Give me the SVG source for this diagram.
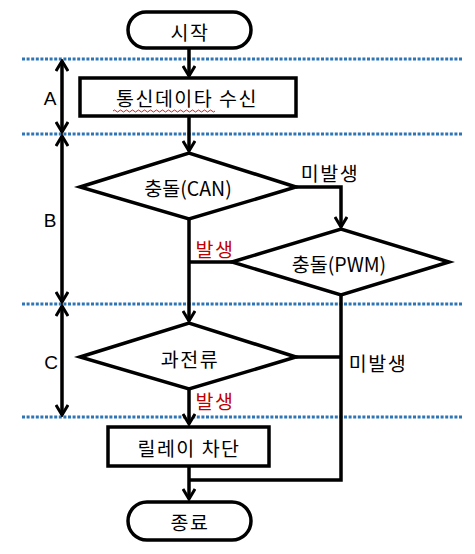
<svg xmlns="http://www.w3.org/2000/svg" width="475" height="554" viewBox="0 0 475 554">
<style>
.sh{fill:#fff;stroke:#000;stroke-width:3.5}
.ln{fill:none;stroke:#000;stroke-width:3.5}
.dot{fill:none;stroke:#2e75b6;stroke-width:3;stroke-dasharray:3 1.6}
.t{font-family:"Noto Sans CJK KR","Noto Sans",sans-serif;font-size:19.5px;fill:#000;text-anchor:middle;dominant-baseline:central}
.w{letter-spacing:1.5px}
.r{fill:#c00000}
.lat{font-family:"Liberation Sans","Noto Sans",sans-serif;font-size:19px;fill:#000;text-anchor:middle;dominant-baseline:central}
</style>
<defs>
<marker id="ah" viewBox="0 0 14 14" refX="12" refY="7" markerWidth="14" markerHeight="14" markerUnits="userSpaceOnUse" orient="auto-start-reverse">
<path d="M2,1 L12,7 L2,13" fill="none" stroke="#000" stroke-width="3"/>
</marker>
</defs>
<rect width="475" height="554" fill="#fff"/>
<g id="guides">
<line class="dot" x1="22" y1="59" x2="462" y2="59"/>
<line class="dot" x1="22" y1="134" x2="462" y2="134"/>
<line class="dot" x1="22" y1="304" x2="462" y2="304"/>
<line class="dot" x1="22" y1="417" x2="462" y2="417"/>
</g>
<g id="connectors">
<line class="ln" x1="189" y1="48" x2="189" y2="76" marker-end="url(#ah)"/>
<line class="ln" x1="189" y1="116" x2="189" y2="151" marker-end="url(#ah)"/>
<polyline class="ln" points="296,187 341,187 341,227" marker-end="url(#ah)"/>
<line class="ln" x1="189" y1="219" x2="189" y2="321" marker-end="url(#ah)"/>
<line class="ln" x1="232" y1="262" x2="189" y2="262"/>
<line class="ln" x1="189" y1="389" x2="189" y2="424" marker-end="url(#ah)"/>
<line class="ln" x1="296" y1="357" x2="341" y2="357"/>
<polyline class="ln" points="341,295 341,480 189,480"/>
<line class="ln" x1="189" y1="466" x2="189" y2="499" marker-end="url(#ah)"/>
<line class="ln" x1="62" y1="61" x2="62" y2="132" marker-start="url(#ah)" marker-end="url(#ah)"/>
<line class="ln" x1="62" y1="136" x2="62" y2="302" marker-start="url(#ah)" marker-end="url(#ah)"/>
<line class="ln" x1="62" y1="306" x2="62" y2="415" marker-start="url(#ah)" marker-end="url(#ah)"/>
</g>
<g id="labels">
<text class="lat" x="50" y="98">A</text>
<text class="lat" x="50" y="220">B</text>
<text class="lat" x="51" y="362">C</text>
<text class="t w" x="330" y="172">미발생</text>
<text class="t r w" x="215" y="248">발생</text>
<text class="t w" x="378" y="362">미발생</text>
<text class="t r w" x="215" y="400">발생</text>
</g>
<g id="start">
<rect class="sh" x="128" y="12" width="123" height="36" rx="18"/>
<text class="t w" x="190" y="31">시작</text>
</g>
<g id="receive">
<rect class="sh" x="80" y="78" width="216" height="38"/>
<text class="t w" x="187" y="97">통신데이타 수신</text>
<path d="M113,111 q1.5,-2 3,0 t3,0 t3,0 t3,0 t3,0 t3,0 t3,0 t3,0 t3,0 t3,0 t3,0 t3,0 t3,0 t3,0 t3,0 t3,0 t3,0 t3,0 t3,0 t3,0 t3,0 t3,0 t3,0 t3,0 t3,0 t3,0 t3,0 t3,0 t3,0 t3,0 t3,0 t3,0 t3,0 t3,0" fill="none" stroke="#d02020" stroke-width="1"/>
</g>
<g id="can">
<polygon class="sh" points="80,187 189,153 296,187 189,219"/>
<text class="t" x="188" y="187">충돌(CAN)</text>
</g>
<g id="pwm">
<polygon class="sh" points="232,262 341,229 449,262 341,295"/>
<text class="t" x="339" y="263">충돌(PWM)</text>
</g>
<g id="overcurrent">
<polygon class="sh" points="80,357 189,323 296,357 189,389"/>
<text class="t w" x="190" y="358">과전류</text>
</g>
<g id="relay">
<rect class="sh" x="108" y="427" width="161" height="39"/>
<text class="t w" x="189" y="447">릴레이 차단</text>
</g>
<g id="end">
<rect class="sh" x="128" y="502" width="123" height="38" rx="19"/>
<text class="t w" x="190" y="521">종료</text>
</g>
</svg>
